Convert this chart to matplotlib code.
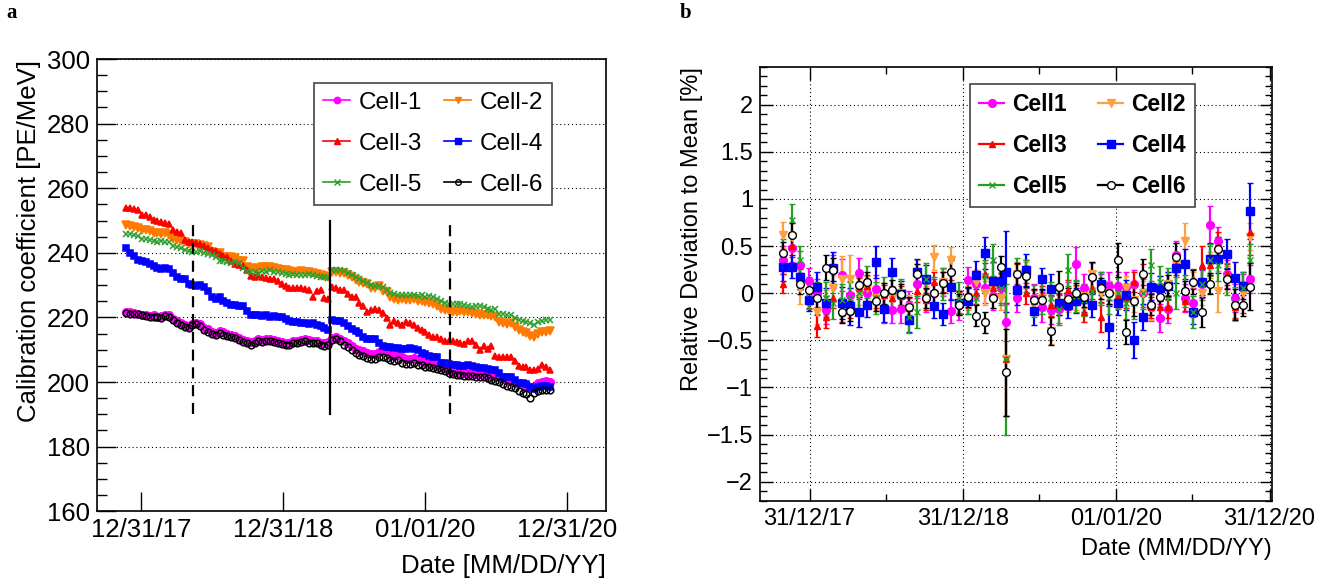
import numpy as np
import matplotlib.pyplot as plt
from matplotlib.lines import Line2D
from matplotlib.ticker import MultipleLocator, FixedLocator

plt.rcParams['font.family'] = ['Liberation Sans', 'DejaVu Sans']

# ---------------- panel a : calibration coefficient [PE/MeV] ----------------
# one point every 10 days, day 0 = 31 Dec 2017
days_a = np.arange(-38, 1053, 10)

cell1_a = [221.8, 221.6, 221.4, 221.2, 220.8, 220.6, 220.4, 220.6, 220.2, 220.4,
           220.8, 220.6, 219.6, 218.8, 218.2, 217.6, 217.2, 218.0, 218.4, 218.0,
           216.8, 216.4, 215.6, 215.2, 215.8, 215.4, 214.8, 214.6, 214.4, 213.6,
           213.0, 212.6, 212.4, 212.8, 213.2, 213.0, 213.2, 213.4, 213.0, 212.8,
           212.4, 212.2, 212.0, 212.6, 212.8, 213.0, 213.2, 213.0, 212.6, 212.8,
           212.2, 212.0, 212.4, 213.6, 213.8, 213.4, 212.6, 212.0, 211.0, 210.2,
           209.8, 209.6, 209.0, 208.8, 208.8, 209.2, 209.6, 209.2, 208.4, 208.2,
           208.4, 207.6, 207.2, 207.2, 207.4, 207.0, 206.6, 205.8, 205.6, 205.6,
           205.0, 204.6, 204.4, 203.6, 203.2, 203.0, 203.0, 202.8, 202.6, 202.8,
           202.6, 202.4, 202.6, 202.2, 201.8, 201.6, 201.4, 201.0, 200.6, 200.4,
           199.8, 199.4, 199.0, 199.0, 198.6, 198.4, 199.6, 200.0, 200.2, 200.0]
cell2_a = [248.6, 248.4, 248.0, 247.8, 247.2, 247.0, 246.6, 246.0, 246.0, 245.8,
           246.0, 245.4, 244.4, 244.0, 243.8, 243.2, 242.8, 242.8, 242.6, 242.4,
           242.2, 241.8, 240.4, 240.0, 239.8, 238.8, 238.6, 238.6, 238.4, 237.6,
           237.6, 235.6, 235.2, 235.0, 235.4, 235.6, 235.6, 235.6, 235.4, 235.0,
           234.6, 234.8, 234.4, 234.2, 234.2, 234.4, 234.0, 234.0, 233.6, 233.4,
           233.0, 232.8, 232.4, 234.2, 234.0, 233.8, 233.6, 233.0, 232.4, 231.6,
           231.0, 230.8, 230.4, 229.2, 229.0, 229.8, 228.2, 227.8, 226.2, 225.6,
           225.4, 225.6, 225.4, 225.4, 225.6, 225.2, 225.2, 224.8, 224.4, 224.2,
           223.6, 222.6, 222.2, 222.0, 221.8, 221.8, 221.9, 221.6, 221.8, 221.4,
           221.0, 220.8, 220.6, 220.8, 220.4, 220.0, 218.6, 218.4, 218.0, 218.2,
           217.0, 216.0, 215.6, 215.2, 214.4, 214.0, 215.0, 215.4, 215.6, 215.8]
cell3_a = [253.9, 253.8, 253.6, 253.2, 251.8, 251.6, 251.2, 250.3, 250.0, 249.4,
           249.1, 248.8, 247.0, 246.5, 246.0, 244.0, 243.4, 243.2, 242.9, 242.8,
           242.2, 241.4, 240.9, 240.6, 239.6, 238.9, 238.6, 237.6, 236.6, 236.2,
           235.8, 234.6, 232.8, 232.4, 233.1, 232.6, 232.2, 231.8, 231.8, 231.4,
           230.4, 229.6, 229.2, 229.0, 229.0, 229.2, 228.8, 228.4, 226.4, 228.2,
           228.4, 226.0, 225.8, 229.4, 229.0, 228.6, 228.4, 227.4, 226.4, 226.2,
           224.4, 223.6, 221.8, 222.4, 222.6, 222.2, 221.3, 219.8, 217.6, 218.8,
           218.4, 217.8, 218.6, 218.4, 217.6, 216.8, 216.0, 215.4, 214.7, 214.0,
           214.0, 213.2, 212.8, 212.6, 212.6, 212.4, 212.0, 211.8, 212.6, 212.8,
           211.6, 209.9, 211.0, 210.2, 211.0, 208.0, 207.8, 207.8, 207.6, 207.8,
           206.6, 205.0, 204.6, 204.8, 203.6, 203.6, 204.0, 205.2, 204.6, 203.8]
cell4_a = [241.4, 239.8, 239.0, 237.8, 237.6, 237.2, 236.4, 235.8, 235.2, 235.0,
           235.2, 235.0, 233.6, 232.4, 232.0, 231.8, 230.4, 230.0, 229.8, 230.0,
           229.4, 228.2, 226.2, 225.8, 226.4, 225.0, 224.6, 223.8, 223.8, 223.6,
           223.4, 222.0, 220.8, 220.6, 220.6, 220.4, 220.6, 220.2, 220.4, 220.2,
           220.0, 219.4, 218.8, 218.6, 218.6, 218.2, 218.4, 218.0, 218.2, 217.8,
           217.4, 216.8, 216.0, 219.2, 219.0, 218.8, 218.4, 217.4, 216.4, 215.8,
           215.2, 213.8, 213.4, 213.4, 213.2, 212.2, 211.2, 210.8, 210.8, 210.6,
           210.4, 210.2, 210.2, 210.4, 210.2, 210.0, 209.0, 208.8, 208.0, 207.8,
           207.6, 206.0, 205.8, 205.6, 205.2, 205.2, 205.0, 205.0, 205.2, 205.0,
           204.8, 204.4, 204.2, 204.0, 203.8, 203.6, 202.8, 201.6, 201.4, 201.4,
           200.6, 199.8, 199.6, 199.4, 198.6, 197.8, 198.4, 198.8, 198.8, 198.6]
cell5_a = [245.8, 245.8, 245.4, 245.2, 244.4, 244.2, 244.0, 243.6, 243.4, 243.6,
           243.2, 243.4, 242.2, 241.8, 241.6, 241.0, 240.6, 240.4, 240.4, 240.6,
           240.0, 239.6, 239.2, 238.6, 237.6, 237.4, 237.2, 237.0, 237.2, 236.8,
           235.4, 234.4, 234.0, 234.2, 233.4, 234.4, 234.2, 234.6, 234.2, 234.2,
           233.6, 233.4, 233.2, 233.4, 233.0, 233.2, 233.0, 233.4, 233.0, 232.8,
           232.6, 232.6, 232.2, 234.8, 234.6, 234.8, 234.4, 233.8, 233.0, 232.6,
           231.8, 231.2, 230.6, 230.0, 229.6, 229.8, 229.4, 228.4, 227.6, 227.2,
           227.0, 226.8, 227.0, 226.8, 226.8, 226.6, 226.8, 226.4, 226.6, 226.2,
           225.6, 225.0, 224.4, 224.2, 224.0, 224.0, 224.2, 223.8, 223.6, 223.2,
           223.4, 223.6, 223.2, 222.6, 222.4, 222.6, 221.2, 221.0, 220.8, 220.6,
           219.8, 219.2, 219.0, 218.6, 218.2, 217.8, 218.6, 219.0, 219.2, 219.2]
cell6_a = [221.4, 221.2, 221.0, 221.0, 220.6, 220.4, 220.0, 220.2, 220.0, 219.8,
           220.4, 220.2, 219.2, 218.2, 217.8, 217.0, 216.6, 217.6, 218.0, 217.4,
           216.2, 215.6, 214.8, 214.6, 215.2, 214.6, 214.2, 214.0, 213.6, 213.0,
           212.4, 212.0, 211.6, 212.2, 212.6, 212.4, 212.6, 212.8, 212.4, 212.2,
           211.8, 211.6, 211.4, 212.0, 212.2, 212.4, 212.6, 212.2, 212.0, 212.0,
           211.4, 211.2, 211.6, 213.0, 213.2, 212.6, 211.6, 210.8, 209.8, 209.0,
           208.4, 208.0, 207.4, 207.0, 207.2, 207.6, 207.8, 207.4, 206.8, 206.6,
           206.8, 206.0, 205.6, 205.6, 205.8, 205.4, 205.2, 204.6, 204.6, 204.4,
           204.0, 203.6, 203.4, 202.8, 202.4, 202.2, 202.2, 202.0, 201.8, 201.8,
           201.6, 201.4, 201.6, 201.2, 200.6, 200.2, 200.0, 199.4, 198.8, 198.4,
           198.0, 197.2, 196.6, 196.4, 195.2, 196.6, 197.2, 197.6, 197.6, 197.4]

# event markers (days since 31 Dec 2017)
dashed_days = [133, 794]
solid_days = [485]

# ---------------- panel b : relative deviation to mean [%] ----------------
days_b = [-63, -42, -22, -2, 17, 38, 57, 78, 97, 118, 138, 158, 177, 197, 217,
          237, 257, 277, 297, 317, 338, 357, 378, 397, 418, 437, 457, 468, 495,
          516, 535, 555, 575, 594, 615, 634, 655, 674, 695, 714, 734, 754, 773,
          794, 813, 834, 853, 874, 894, 914, 934, 955, 974, 994, 1014, 1032, 1050]

cell1_b = [0.35, 0.48, 0.30, 0.13, 0.00, -0.18, 0.25, 0.19, -0.02, 0.21,
           0.00, 0.04, -0.17, -0.18, -0.17, -0.13, 0.10, -0.05, 0.00, 0.12,
           -0.19, -0.13, 0.14, 0.10, 0.05, -0.03, 0.05, -0.31, -0.05, 0.20,
           -0.05, -0.15, -0.18, -0.17, -0.03, 0.31, 0.05, 0.17, 0.05, 0.08,
           0.08, 0.07, 0.10, 0.00, -0.15, -0.26, -0.17, 0.40, -0.05, -0.10,
           0.10, 0.72, 0.55, 0.20, -0.05, 0.05, 0.15]
cell2_b = [0.62, 0.60, 0.05, 0.00, -0.20, -0.10, 0.05, 0.15, 0.15, 0.00,
           0.05, -0.05, -0.02, -0.05, 0.00, -0.15, 0.22, -0.05, 0.38, 0.12,
           0.35, -0.10, -0.05, 0.12, 0.00, 0.05, -0.05, -0.70, 0.20, 0.20,
           -0.10, -0.05, -0.40, -0.10, -0.07, -0.05, -0.03, 0.20, 0.00, 0.00,
           -0.03, 0.05, -0.07, 0.00, -0.15, 0.05, 0.10, 0.30, 0.55, 0.10,
           0.00, 0.30, 0.02, 0.15, -0.15, 0.00, 0.60]
cell3_b = [0.10, 0.50, 0.15, -0.05, -0.35, -0.25, -0.05, -0.20, -0.15, 0.05,
           0.08, -0.05, -0.02, -0.05, -0.03, -0.16, 0.02, -0.07, 0.12, 0.12,
           0.25, -0.10, -0.05, 0.00, 0.20, 0.05, 0.10, -0.70, 0.20, 0.00,
           -0.08, -0.03, -0.13, -0.12, 0.03, -0.02, -0.20, 0.05, -0.25, 0.00,
           -0.02, -0.05, 0.12, 0.20, -0.15, -0.15, -0.15, 0.30, -0.08, 0.15,
           0.30, 0.30, 0.50, 0.20, -0.15, -0.10, 0.65]
cell4_b = [0.28, 0.28, 0.17, -0.07, 0.07, -0.10, 0.27, -0.10, -0.14, -0.20,
           -0.13, 0.33, -0.17, 0.22, -0.01, -0.28, 0.23, 0.15, -0.14, -0.22,
           0.07, -0.10, -0.08, 0.19, 0.43, 0.13, 0.12, 0.23, 0.03, 0.25,
           -0.19, 0.15, 0.04, -0.10, -0.13, -0.08, -0.06, -0.13, 0.10, -0.36,
           -0.10, -0.02, -0.50, -0.25, 0.07, 0.05, 0.08, 0.27, 0.31, -0.20,
           0.12, 0.36, 0.36, 0.42, 0.16, 0.08, 0.87]
cell5_b = [0.42, 0.78, 0.35, 0.00, -0.05, -0.05, -0.10, -0.07, -0.05, 0.00,
           0.12, -0.05, 0.00, 0.02, -0.02, -0.25, -0.20, 0.15, 0.00, 0.10,
           0.22, -0.05, -0.05, -0.05, 0.18, 0.35, 0.05, -0.70, 0.20, 0.18,
           -0.08, -0.05, -0.05, -0.17, 0.25, -0.03, -0.07, 0.02, 0.05, -0.05,
           0.00, -0.10, -0.10, 0.00, 0.30, 0.12, 0.10, 0.00, 0.02, -0.20,
           0.10, 0.35, 0.30, 0.15, -0.10, 0.05, 0.35]
cell6_b = [0.43, 0.62, 0.10, 0.03, -0.05, 0.27, 0.25, -0.20, -0.19, 0.09,
           0.12, -0.08, 0.00, 0.03, -0.01, -0.15, 0.20, -0.05, 0.00, 0.11,
           0.23, -0.12, -0.04, -0.24, -0.31, -0.05, 0.28, -0.84, 0.20, 0.18,
           -0.07, -0.07, -0.40, 0.07, -0.06, 0.00, -0.04, 0.17, 0.05, 0.00,
           0.35, -0.41, -0.08, 0.20, -0.12, -0.04, 0.08, 0.38, 0.02, 0.12,
           -0.20, 0.10, 0.47, 0.15, -0.12, -0.13, 0.07]

err1_b = [0.15, 0.15, 0.15, 0.14, 0.15, 0.15, 0.15, 0.17, 0.15, 0.16,
          0.15, 0.15, 0.15, 0.14, 0.15, 0.15, 0.15, 0.15, 0.15, 0.15,
          0.13, 0.15, 0.14, 0.15, 0.15, 0.15, 0.15, 0.20, 0.15, 0.15,
          0.15, 0.16, 0.15, 0.15, 0.15, 0.18, 0.15, 0.15, 0.15, 0.15,
          0.15, 0.15, 0.15, 0.15, 0.15, 0.15, 0.15, 0.15, 0.15, 0.15,
          0.15, 0.20, 0.15, 0.15, 0.15, 0.15, 0.15]
err2_b = [0.14, 0.14, 0.16, 0.13, 0.13, 0.13, 0.14, 0.24, 0.25, 0.13,
          0.13, 0.13, 0.13, 0.13, 0.13, 0.13, 0.13, 0.13, 0.13, 0.14,
          0.14, 0.13, 0.13, 0.13, 0.13, 0.13, 0.13, 0.60, 0.13, 0.13,
          0.13, 0.13, 0.14, 0.13, 0.13, 0.13, 0.13, 0.13, 0.13, 0.13,
          0.13, 0.13, 0.13, 0.13, 0.13, 0.13, 0.13, 0.13, 0.20, 0.13,
          0.13, 0.14, 0.22, 0.14, 0.14, 0.13, 0.14]
err3_b = [0.10, 0.12, 0.11, 0.11, 0.12, 0.12, 0.11, 0.11, 0.11, 0.11,
          0.11, 0.11, 0.11, 0.11, 0.11, 0.11, 0.11, 0.11, 0.11, 0.11,
          0.11, 0.11, 0.11, 0.11, 0.12, 0.11, 0.11, 0.60, 0.11, 0.11,
          0.11, 0.11, 0.11, 0.11, 0.11, 0.11, 0.11, 0.11, 0.16, 0.11,
          0.11, 0.11, 0.11, 0.11, 0.11, 0.11, 0.11, 0.11, 0.11, 0.11,
          0.20, 0.11, 0.15, 0.11, 0.11, 0.11, 0.25]
err4_b = [0.15, 0.12, 0.13, 0.12, 0.15, 0.15, 0.17, 0.17, 0.20, 0.16,
          0.12, 0.17, 0.14, 0.15, 0.14, 0.13, 0.13, 0.15, 0.12, 0.12,
          0.14, 0.12, 0.14, 0.15, 0.17, 0.20, 0.15, 0.43, 0.15, 0.17,
          0.15, 0.12, 0.16, 0.13, 0.13, 0.13, 0.14, 0.12, 0.12, 0.22,
          0.13, 0.16, 0.19, 0.14, 0.14, 0.13, 0.14, 0.16, 0.16, 0.13,
          0.14, 0.17, 0.15, 0.15, 0.17, 0.14, 0.30]
err5_b = [0.16, 0.17, 0.15, 0.17, 0.17, 0.17, 0.17, 0.17, 0.17, 0.17,
          0.17, 0.17, 0.17, 0.17, 0.17, 0.17, 0.17, 0.17, 0.17, 0.17,
          0.17, 0.17, 0.17, 0.17, 0.17, 0.17, 0.17, 0.80, 0.17, 0.17,
          0.17, 0.17, 0.17, 0.17, 0.17, 0.17, 0.17, 0.17, 0.17, 0.17,
          0.17, 0.17, 0.17, 0.17, 0.17, 0.17, 0.17, 0.17, 0.17, 0.17,
          0.17, 0.17, 0.17, 0.17, 0.17, 0.17, 0.17]
err6_b = [0.11, 0.12, 0.11, 0.11, 0.11, 0.13, 0.12, 0.12, 0.11, 0.11,
          0.11, 0.11, 0.11, 0.11, 0.11, 0.11, 0.11, 0.11, 0.11, 0.11,
          0.12, 0.11, 0.11, 0.11, 0.11, 0.11, 0.11, 0.46, 0.12, 0.11,
          0.11, 0.11, 0.15, 0.17, 0.11, 0.11, 0.11, 0.16, 0.11, 0.11,
          0.18, 0.13, 0.16, 0.16, 0.11, 0.11, 0.11, 0.15, 0.11, 0.13,
          0.16, 0.11, 0.13, 0.11, 0.16, 0.11, 0.25]

year_ticks = [0, 365, 731, 1096]
year_labels_a = ['12/31/17', '12/31/18', '01/01/20', '12/31/20']
year_labels_b = ['31/12/17', '31/12/18', '01/01/20', '31/12/20']
half_year_ticks = [181, 546, 912]

# ---------------- figure ----------------
fig = plt.figure(figsize=(13.32, 5.86), dpi=100)
axa = fig.add_axes([0.0727, 0.1276, 0.3823, 0.7717])
axb = fig.add_axes([0.5706, 0.1442, 0.3844, 0.7415])

# panel a series: (values, label, color, marker, size, filled)
series_a = [
    (cell1_a, 'Cell-1', '#ff00ff', 'o', 5.4, True),
    (cell2_a, 'Cell-2', '#ff7a00', 'v', 5.4, True),
    (cell3_a, 'Cell-3', '#ff0000', '^', 4.3, True),
    (cell4_a, 'Cell-4', '#0000ff', 's', 5.0, True),
    (cell5_a, 'Cell-5', '#2ca02c', 'x', 4.6, True),
    (cell6_a, 'Cell-6', 'black', 'o', 4.8, False),
]
handles_a = []
for vals, lab, col, mk, ms, filled in series_a:
    fc = col if filled else 'none'
    axa.plot(days_a, vals, ls='none', marker=mk, ms=ms, color=col,
             mfc=fc, mec=col, mew=1.1, zorder=3)
    handles_a.append(Line2D([], [], color=col, lw=1.2, marker=mk, ms=ms * 0.85,
                            mfc=fc, mec=col, mew=1.0))

for d in dashed_days:
    axa.plot([d, d], [190, 250], color='black', lw=1.6, ls=(0, (5, 3)), zorder=4)
for d in solid_days:
    axa.plot([d, d], [190, 250], color='black', lw=1.6, zorder=4)

axa.set_xlim(-114, 1197)
axa.set_ylim(160, 300)
axa.xaxis.set_major_locator(FixedLocator(year_ticks))
axa.set_xticklabels(year_labels_a)
axa.yaxis.set_major_locator(MultipleLocator(20))
axa.yaxis.set_minor_locator(MultipleLocator(5))
axa.tick_params(which='major', direction='in', length=14, width=1.0,
                labelsize=18.5, pad=5, top=False, right=False)
axa.tick_params(which='minor', direction='in', length=7, width=1.0,
                top=False, right=False)
axa.yaxis.grid(True, ls=(0, (1, 2.5)), color='black', lw=0.8)
axa.set_axisbelow(True)
for sp in axa.spines.values():
    sp.set_linewidth(1.2)

order = [0, 2, 4, 1, 3, 5]
lega = axa.legend([handles_a[i] for i in order], [series_a[i][1] for i in order],
                  ncol=2, loc='lower left', mode='expand',
                  bbox_to_anchor=(0.4266, 0.677, 0.4674, 0.2765), borderaxespad=0,
                  fontsize=17.5, frameon=True, fancybox=False, handlelength=1.1,
                  handletextpad=0.35, labelspacing=0.78, columnspacing=0.8,
                  borderpad=0.38)
lega.get_frame().set_edgecolor('#444444')
lega.get_frame().set_linewidth(1.2)
lega.get_frame().set_alpha(1)

# panel b series
series_b = [
    (cell1_b, err1_b, 'Cell1', '#ff00ff', 'o', 5.6, True),
    (cell2_b, err2_b, 'Cell2', '#ffa040', 'v', 5.6, True),
    (cell3_b, err3_b, 'Cell3', '#ff0000', '^', 5.0, True),
    (cell4_b, err4_b, 'Cell4', '#0000ff', 's', 5.4, True),
    (cell5_b, err5_b, 'Cell5', '#22a022', 'x', 4.6, True),
    (cell6_b, err6_b, 'Cell6', 'black', 'o', 5.6, False),
]
handles_b = []
for vals, err, lab, col, mk, ms, filled in series_b:
    fc = col if filled else 'white'
    axb.errorbar(days_b, vals, yerr=err, fmt=mk, ms=ms, color=col, mfc=fc,
                 mec=col, mew=1.0, elinewidth=1.6, capsize=2.0, capthick=1.6,
                 zorder=3)
    handles_b.append(Line2D([], [], color=col, lw=1.6, marker=mk, ms=ms,
                            mfc=fc, mec=col, mew=1.0))

axb.set_xlim(-118, 1102)
axb.set_ylim(-2.21, 2.40)
axb.xaxis.set_major_locator(FixedLocator(year_ticks))
axb.xaxis.set_minor_locator(FixedLocator(half_year_ticks))
axb.set_xticklabels(year_labels_b)
axb.yaxis.set_major_locator(MultipleLocator(0.5))
axb.yaxis.set_minor_locator(MultipleLocator(0.1))
axb.yaxis.set_major_formatter(plt.FuncFormatter(lambda v, p: f'{v:g}'.replace('-', '\u2212')))
axb.tick_params(which='major', direction='in', length=9, width=1.0,
                labelsize=17, pad=5, top=True, right=True)
axb.tick_params(which='minor', direction='in', length=5, width=1.0,
                top=True, right=True)
axb.grid(True, which='major', ls=(0, (1, 2.5)), color='black', lw=0.8)
axb.set_axisbelow(True)
for sp in axb.spines.values():
    sp.set_linewidth(1.2)

legb = axb.legend([handles_b[i] for i in order], [series_b[i][2] for i in order],
                  ncol=2, loc='lower left', mode='expand',
                  bbox_to_anchor=(0.411, 0.6787, 0.438, 0.281), borderaxespad=0,
                  prop={'size': 16.5, 'weight': 'bold'}, frameon=True,
                  fancybox=False, handlelength=1.1, handletextpad=0.35,
                  labelspacing=0.78, columnspacing=0.8, borderpad=0.38)
legb.get_frame().set_edgecolor('#444444')
legb.get_frame().set_linewidth(1.2)
legb.get_frame().set_alpha(1)

# axis titles (ROOT style: aligned to the axis ends)
fig.text(29.5 / 1332, 1 - 60 / 586, 'Calibration coefficient [PE/MeV]',
         rotation=90, ha='center', va='top', fontsize=18.5)
fig.text(606 / 1332, 1 - 566 / 586, 'Date [MM/DD/YY]', ha='right', va='center',
         fontsize=18.5)
fig.text(692 / 1332, 1 - 67 / 586, 'Relative Deviation to Mean [%]',
         rotation=90, ha='center', va='top', fontsize=17)
fig.text(1272 / 1332, 1 - 548.6 / 586, 'Date (MM/DD/YY)', ha='right',
         va='center', fontsize=17)

fig.text(12 / 1332, 1 - 13 / 586, 'a', family='Liberation Serif',
         fontweight='bold', fontsize=15, ha='center', va='center')
fig.text(686 / 1332, 1 - 13 / 586, 'b', family='Liberation Serif',
         fontweight='bold', fontsize=15, ha='center', va='center')

fig.savefig('out.png', dpi=100)
